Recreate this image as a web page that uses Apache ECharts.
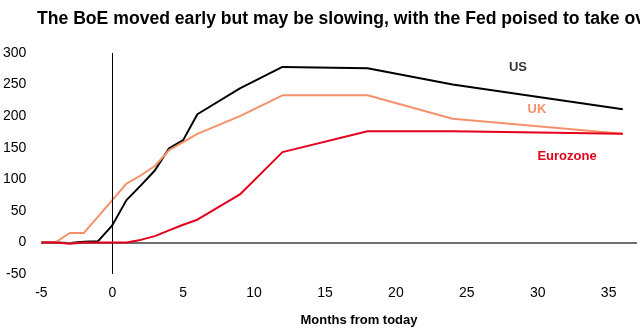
<!DOCTYPE html>
<html>
<head>
<meta charset="utf-8">
<script src="https://cdn.jsdelivr.net/npm/echarts@6/dist/echarts.min.js"></script>
<style>html,body{margin:0;padding:0;background:#fff}#c{width:640px;height:336px}</style>
</head>
<body>
<div id="c"></div>
<script>
var months = [-5, -4, -3, -2, -1, 0, 1, 2, 3, 4, 5, 6, 9, 12, 18, 24, 36];
var usValues = [0, 0, -1, 1, 2, 27, 67, 90, 114, 149, 162, 203, 244, 278, 276, 250, 211];
var ukValues = [0, 0, 15, 15, 41, 67, 93, 106, 121, 146, 159, 172, 200, 233, 233, 196, 172];
var ezValues = [0, 0, -2, 0, 0, 0, 0, 4, 10, 19, 28, 36, 76, 143, 176, 176, 172];
var seriesNames = ['US', 'UK', 'Eurozone'];
var xTicks = [-5, 0, 5, 10, 15, 20, 25, 30, 35];
var yTicks = [-50, 0, 50, 100, 150, 200, 250, 300];
var titleText = 'The BoE moved early but may be slowing, with the Fed poised to take over';
var xAxisTitle = 'Months from today';

var FONT = "'Liberation Sans', Arial, sans-serif";
var colors = ['#000000', '#F4916B', '#E3001B'];
var labelColors = ['#333333', '#F4916B', '#E3001B'];

function pairs(vals) { return months.map(function (m, i) { return [m, vals[i]]; }); }

var chart = echarts.init(document.getElementById('c'), null, { renderer: 'canvas' });
var allVals = [usValues, ukValues, ezValues];
var series = allVals.map(function (v, i) {
  return {
    name: seriesNames[i], type: 'line', data: pairs(v), showSymbol: false, symbol: 'none',
    lineStyle: { color: colors[i], width: 2 }, z: 3 + i, animation: false
  };
});
series.push({
  type: 'line', data: [], silent: true, animation: false, z: 2,
  markLine: {
    silent: true, symbol: 'none', animation: false, label: { show: false },
    data: [
      { yAxis: 0, lineStyle: { color: '#707070', width: 2, type: 'solid' } },
      { xAxis: 0, lineStyle: { color: '#000000', width: 1, type: 'solid' } }
    ]
  }
});

chart.setOption({
  animation: false,
  title: {
    text: titleText, left: 32, top: 5,
    textStyle: { fontFamily: FONT, fontSize: 17.6, fontWeight: 'bold', color: '#000' }
  },
  grid: { left: 38, right: 0, top: 53, bottom: 62, containLabel: false },
  xAxis: {
    type: 'value', min: -5, max: 37, interval: 5,
    axisLine: { show: false }, axisTick: { show: false }, splitLine: { show: false },
    axisLabel: {
      margin: 12, color: '#000', fontFamily: FONT, fontSize: 14,
      formatter: function (v) { return xTicks.indexOf(v) >= 0 ? String(v) : ''; }
    }
  },
  yAxis: {
    type: 'value', min: -50, max: 300, interval: 50,
    axisLine: { show: false }, axisTick: { show: false }, splitLine: { show: false },
    axisLabel: {
      margin: 15, color: '#000', fontFamily: FONT, fontSize: 14,
      formatter: function (v) { return yTicks.indexOf(v) >= 0 ? String(v) : ''; }
    }
  },
  graphic: [
    { type: 'text', x: 359, y: 320, style: { text: xAxisTitle, fill: '#000', font: 'bold 13px ' + FONT, textAlign: 'center', textVerticalAlign: 'middle' } },
    { type: 'text', x: 518, y: 67, style: { text: seriesNames[0], fill: labelColors[0], font: 'bold 13px ' + FONT, textAlign: 'center', textVerticalAlign: 'middle' } },
    { type: 'text', x: 537, y: 109, style: { text: seriesNames[1], fill: labelColors[1], font: 'bold 13px ' + FONT, textAlign: 'center', textVerticalAlign: 'middle' } },
    { type: 'text', x: 567, y: 156, style: { text: seriesNames[2], fill: labelColors[2], font: 'bold 13px ' + FONT, textAlign: 'center', textVerticalAlign: 'middle' } }
  ],
  series: series
});
</script>
</body>
</html>
